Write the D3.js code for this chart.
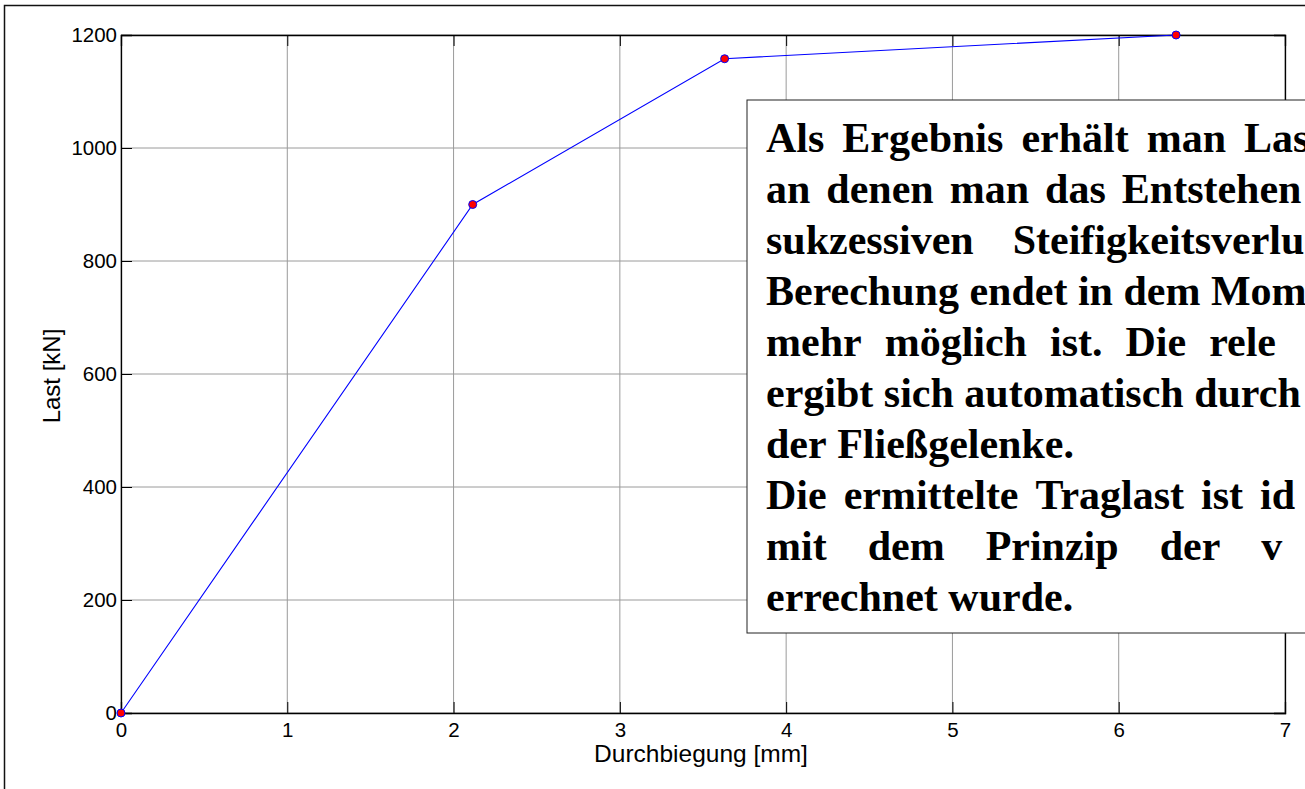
<!DOCTYPE html>
<html><head><meta charset="utf-8">
<script src="https://cdn.jsdelivr.net/npm/d3@7"></script>
<style>html,body{margin:0;padding:0;background:#fff;overflow:hidden}</style>
</head><body>
<script>
const deflection = [0, 2.115, 3.63, 6.345];
const load = [0, 900, 1158, 1200];
const xTicks = [0,1,2,3,4,5,6,7];
const yTicks = [0,200,400,600,800,1000,1200];
const xLabel = "Durchbiegung [mm]";
const yLabel = "Last [kN]";
const boxLines = [
  "Als Ergebnis erhält man Las",
  "an denen man das Entstehen",
  "sukzessiven Steifigkeitsverlu",
  "Berechung endet in dem Mom",
  "mehr möglich ist. Die rele",
  "ergibt sich automatisch durch",
  "der Fließgelenke.",
  "Die ermittelte Traglast ist id",
  "mit dem Prinzip der v",
  "errechnet wurde."
];
const lineGaps = [18, 16, 39, 10.5, 23, 10.5, 10.5, 17, 41, 10.5];

const W = 1305, H = 789;
const svg = d3.select("body").append("svg").attr("width", W).attr("height", H);
svg.append("rect").attr("width", W).attr("height", H).attr("fill", "#fff");
// outer frame
svg.append("rect").attr("x", 4.5).attr("y", 5.5).attr("width", 1400).attr("height", 900)
  .attr("fill", "none").attr("stroke", "#111").attr("stroke-width", 1.5);

const L = 121, R = 1285, T = 35, B = 713;
const x = d3.scaleLinear().domain([0, 7]).range([L, R]);
const y = d3.scaleLinear().domain([0, 1200]).range([B, T]);

const g = svg.append("g");
// grid
g.selectAll(".gx").data(xTicks).enter().append("line")
  .attr("x1", d => x(d)).attr("x2", d => x(d)).attr("y1", T).attr("y2", B)
  .attr("stroke", "#9a9a9a").attr("stroke-width", 1);
g.selectAll(".gy").data(yTicks).enter().append("line")
  .attr("y1", d => y(d)).attr("y2", d => y(d)).attr("x1", L).attr("x2", R)
  .attr("stroke", "#9a9a9a").attr("stroke-width", 1);

// axes
const fontAx = "Liberation Sans, Arial, sans-serif";
const xAx = g.append("g").attr("transform", `translate(0,${B})`)
  .call(d3.axisBottom(x).tickValues(xTicks).tickSize(-11).tickPadding(10).tickFormat(d3.format("d")));
const xAxT = g.append("g").attr("transform", `translate(0,${T})`)
  .call(d3.axisTop(x).tickValues(xTicks).tickSize(-11).tickFormat(""));
const yAx = g.append("g").attr("transform", `translate(${L},0)`)
  .call(d3.axisLeft(y).tickValues(yTicks).tickSize(-11).tickPadding(4).tickFormat(d3.format("d")));
const yAxR = g.append("g").attr("transform", `translate(${R},0)`)
  .call(d3.axisRight(y).tickValues(yTicks).tickSize(-11).tickFormat(""));
[xAx, xAxT, yAx, yAxR].forEach(a => {
  a.select(".domain").attr("stroke", "#000").attr("stroke-width", 1.3);
  a.selectAll(".tick line").attr("stroke", "#000").attr("stroke-width", 1);
  a.selectAll("text").attr("font-family", fontAx).attr("font-size", 20.5).attr("fill", "#000");
});
xAx.selectAll("text").attr("dy", "0.71em").attr("y", 9);

// axis labels
svg.append("text").attr("x", (L + R) / 2 - 2).attr("y", 762).attr("text-anchor", "middle")
  .attr("font-family", fontAx).attr("font-size", 24.5).text(xLabel);
svg.append("text").attr("transform", `translate(60,${(T + B) / 2 + 2}) rotate(-90)`)
  .attr("text-anchor", "middle").attr("font-family", fontAx).attr("font-size", 24).text(yLabel);

// data line
const line = d3.line().x((d, i) => x(deflection[i])).y((d, i) => y(load[i]));
svg.append("path").datum(load).attr("d", line).attr("fill", "none")
  .attr("stroke", "#0000ff").attr("stroke-width", 1.1);
svg.selectAll(".pt").data(load).enter().append("circle")
  .attr("cx", (d, i) => x(deflection[i])).attr("cy", d => y(d)).attr("r", 4)
  .attr("fill", "#ff0000").attr("stroke", "#0000ff").attr("stroke-width", 1);

// text box
svg.append("rect").attr("x", 747).attr("y", 100).attr("width", 700).attr("height", 533)
  .attr("fill", "#fff").attr("stroke", "#222").attr("stroke-width", 1);
const tb = svg.append("g").attr("font-family", "Liberation Serif, 'Times New Roman', serif")
  .attr("font-weight", "bold").attr("font-size", 42).attr("fill", "#000");
boxLines.forEach((ln, i) => {
  const words = ln.split(" ");
  let cx = 766;
  const by = 152 + i * 51;
  words.forEach(w => {
    const t = tb.append("text").attr("x", cx).attr("y", by).text(w);
    cx += t.node().getComputedTextLength() + lineGaps[i];
  });
});
</script>
</body></html>
